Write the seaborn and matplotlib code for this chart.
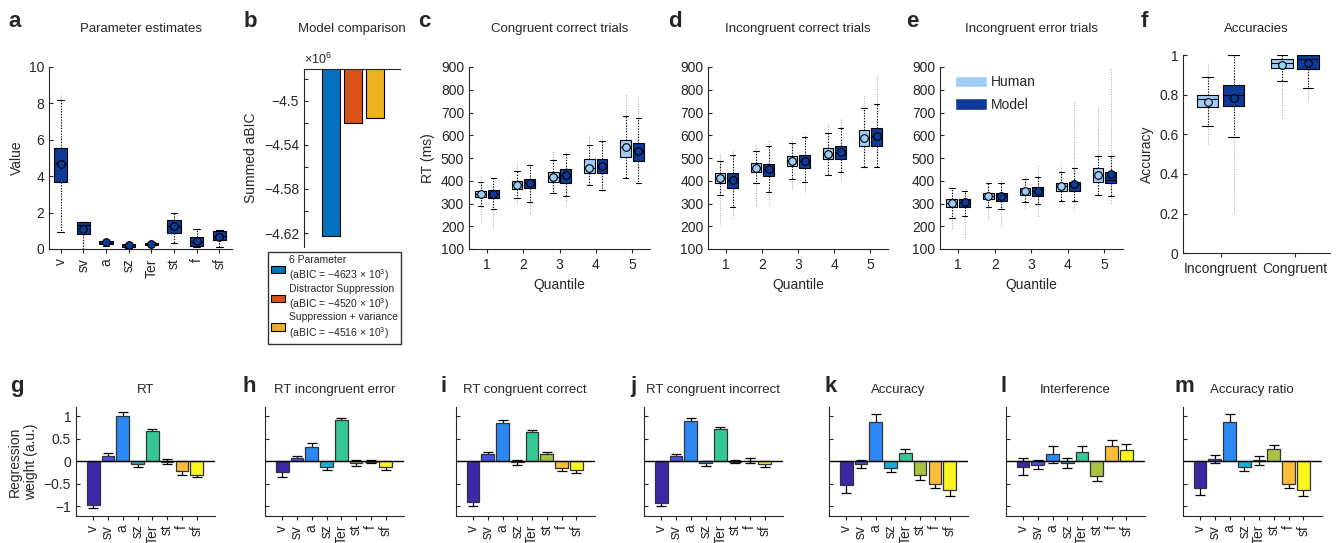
import numpy as np
import pandas as pd
import matplotlib.pyplot as plt
from matplotlib.patches import Patch
from matplotlib.ticker import FuncFormatter
import seaborn as sns

# ---------------- data ----------------
params = ['v', 'sv', 'a', 'sz', 'Ter', 'st', 'f', 'sf']

# a: parameter estimates, box summaries per parameter
a_flo = [0.95, 0.02, 0.15, 0.05, 0.20, 0.33, 0.10, 0.10]
a_wlo = [0.95, 0.02, 0.15, 0.05, 0.20, 0.33, 0.10, 0.10]
a_q1 = [3.69, 0.82, 0.27, 0.09, 0.24, 0.88, 0.18, 0.51]
a_med = [4.71, 1.33, 0.35, 0.20, 0.30, 1.25, 0.40, 0.72]
a_q3 = [5.53, 1.48, 0.46, 0.29, 0.35, 1.61, 0.64, 0.97]
a_whi = [8.21, 1.51, 0.50, 0.30, 0.40, 2.00, 1.09, 1.02]
a_fhi = [8.54, 1.51, 0.50, 0.30, 0.40, 2.00, 1.09, 1.02]
a_mean = [4.68, 1.09, 0.36, 0.20, 0.30, 1.25, 0.43, 0.68]

# b: model comparison, summed aBIC in units of 10^3
models = ['6 Parameter', 'Distractor Suppression', 'Suppression + variance']
abic_k = [-4623, -4520, -4516]

# c-e: RT quantiles (ms); every list is [Human, Model], one value per quantile
sources = ['Human', 'Model']
quantiles = ['1', '2', '3', '4', '5']

cc_flo = [[215, 295, 340, 380, 410], [190, 250, 295, 350, 390]]
cc_wlo = [[288, 322, 348, 380, 411], [275, 307, 331, 360, 392]]
cc_q1 = [[328, 364, 396, 433, 506], [322, 367, 392, 433, 485]]
cc_med = [[342, 382, 415, 458, 548], [342, 389, 425, 465, 532]]
cc_q3 = [[355, 398, 440, 496, 579], [360, 409, 450, 494, 567]]
cc_whi = [[395, 443, 493, 555, 683], [411, 469, 519, 575, 678]]
cc_fhi = [[420, 485, 530, 605, 780], [415, 480, 525, 595, 775]]
cc_mean = [[342, 382, 415, 458, 548], [342, 389, 425, 465, 532]]

ic_flo = [[205, 285, 360, 420, 460], [235, 300, 340, 400, 460]]
ic_wlo = [[338, 390, 407, 425, 462], [284, 351, 396, 437, 462]]
ic_q1 = [[392, 437, 464, 494, 553], [370, 423, 456, 494, 553]]
ic_med = [[411, 458, 485, 519, 590], [404, 450, 485, 525, 595]]
ic_q3 = [[433, 477, 509, 542, 625], [434, 475, 515, 554, 630]]
ic_whi = [[488, 532, 567, 611, 720], [512, 551, 592, 633, 739]]
ic_fhi = [[520, 555, 595, 650, 780], [540, 580, 615, 670, 860]]
ic_mean = [[411, 458, 485, 519, 590], [404, 450, 485, 525, 595]]

ie_flo = [[185, 230, 275, 310, 340], [145, 195, 240, 270, 300]]
ie_wlo = [[236, 284, 307, 313, 338], [243, 275, 296, 310, 331]]
ie_q1 = [[285, 319, 338, 355, 393], [285, 313, 335, 354, 390]]
ie_med = [[303, 332, 354, 377, 425], [306, 332, 357, 385, 404]]
ie_q3 = [[319, 345, 370, 392, 458], [319, 347, 371, 396, 437]]
ie_whi = [[367, 389, 408, 440, 510], [357, 389, 418, 458, 510]]
ie_fhi = [[375, 405, 430, 470, 730], [365, 405, 475, 750, 895]]
ie_mean = [[303, 332, 354, 377, 425], [306, 332, 357, 385, 428]]

# f: accuracies
conditions = ['Incongruent', 'Congruent']
acc_flo = [[0.551, 0.68], [0.20, 0.77]]
acc_wlo = [[0.642, 0.871], [0.588, 0.832]]
acc_q1 = [[0.736, 0.933], [0.743, 0.929]]
acc_med = [[0.776, 0.961], [0.798, 0.978]]
acc_q3 = [[0.797, 0.978], [0.847, 0.998]]
acc_whi = [[0.887, 1.0], [1.0, 1.0]]
acc_fhi = [[0.966, 1.0], [1.0, 1.0]]
acc_mean = [[0.765, 0.95], [0.782, 0.96]]

# g-m: regression weights and their errors, one value per parameter
reg_titles = ['RT', 'RT incongruent error', 'RT congruent correct',
              'RT congruent incorrect', 'Accuracy', 'Interference', 'Accuracy ratio']
reg_letters = ['g', 'h', 'i', 'j', 'k', 'l', 'm']
reg_weights = [
    [-0.98, 0.11, 1.00, -0.07, 0.67, -0.01, -0.23, -0.31],
    [-0.25, 0.07, 0.32, -0.13, 0.91, -0.04, -0.01, -0.13],
    [-0.91, 0.15, 0.84, -0.03, 0.64, 0.15, -0.16, -0.20],
    [-0.93, 0.11, 0.88, -0.05, 0.72, -0.01, 0.01, -0.07],
    [-0.54, -0.07, 0.86, -0.15, 0.17, -0.31, -0.50, -0.65],
    [-0.12, -0.08, 0.15, -0.05, 0.21, -0.33, 0.33, 0.24],
    [-0.60, 0.05, 0.86, -0.13, 0.015, 0.26, -0.50, -0.65],
]
reg_errors = [
    [0.07, 0.06, 0.08, 0.05, 0.05, 0.055, 0.07, 0.05],
    [0.10, 0.045, 0.09, 0.06, 0.05, 0.06, 0.04, 0.07],
    [0.08, 0.05, 0.07, 0.045, 0.04, 0.05, 0.05, 0.07],
    [0.07, 0.04, 0.07, 0.05, 0.04, 0.04, 0.05, 0.06],
    [0.16, 0.09, 0.18, 0.09, 0.09, 0.10, 0.10, 0.13],
    [0.19, 0.10, 0.19, 0.11, 0.12, 0.11, 0.13, 0.15],
    [0.16, 0.09, 0.18, 0.08, 0.10, 0.09, 0.10, 0.13],
]

# ---------------- style ----------------
human_c = '#9fcdf8'
model_c = '#0d3a96'
model_colors = ['#0072bd', '#d95319', '#edb120']
param_colors = ['#3d26a8', '#4551ea', '#2b88f5', '#17b0d8',
                '#35c896', '#a8c340', '#fdbd3c', '#f8f61a']

sns.set_style('ticks')
plt.rcParams['font.family'] = ['Liberation Sans', 'DejaVu Sans']
plt.rcParams['mathtext.fontset'] = 'custom'
plt.rcParams['mathtext.rm'] = 'Liberation Sans'
plt.rcParams['mathtext.default'] = 'regular'
plt.rcParams['axes.linewidth'] = 0.8
plt.rcParams['font.size'] = 10
plt.rcParams['xtick.labelsize'] = 10
plt.rcParams['ytick.labelsize'] = 10

W, H = 1338, 543
fig = plt.figure(figsize=(W / 100, H / 100), dpi=100)


def rect(x0, y0, x1, y1):
    return [x0 / W, 1 - y1 / H, (x1 - x0) / W, (y1 - y0) / H]


def minus_fmt(x, pos):
    return f'{x:g}'.replace('-', '\u2212')


def frames(cats, srcs, flo, wlo, q1, med, q3, whi, fhi, mean):
    main, fl, mn = [], [], []
    for s, src in enumerate(srcs):
        for i, c in enumerate(cats):
            main += [(c, src, v) for v in (wlo[s][i], q1[s][i], med[s][i], q3[s][i], whi[s][i])]
            fl += [(c, src, v) for v in (flo[s][i], med[s][i], med[s][i], med[s][i], fhi[s][i])]
            mn.append((c, src, mean[s][i]))
    cols = ['cat', 'src', 'val']
    return pd.DataFrame(main, columns=cols), pd.DataFrame(fl, columns=cols), pd.DataFrame(mn, columns=cols)


def draw_boxes(ax, cats, srcs, palette, stats, width, gap, msize):
    main, fl, mn = frames(cats, srcs, *stats)
    kw = dict(x='cat', y='val', hue='src', order=cats, hue_order=srcs, palette=palette)
    # faint dotted tails for the outlying trials
    sns.boxplot(data=fl, **kw, width=width, gap=gap, whis=(0, 100), showfliers=False,
                saturation=1, linecolor='#b5b5b5', linewidth=0.8,
                boxprops={'visible': False}, medianprops={'visible': False},
                capprops={'visible': False}, whiskerprops={'linestyle': (0, (1, 1.2))},
                legend=False, ax=ax)
    sns.boxplot(data=main, **kw, width=width, gap=gap, whis=(0, 100), showfliers=False,
                saturation=1, linecolor='black', linewidth=0.8,
                whiskerprops={'linestyle': (0, (1, 1.5))}, legend=False, ax=ax)
    sns.pointplot(data=mn, **kw, dodge=(width / 2 if len(srcs) > 1 else False),
                  linestyle='none', marker='o', markersize=msize,
                  markeredgecolor='black', markeredgewidth=0.8,
                  errorbar=None, legend=False, zorder=6, ax=ax)
    ax.set_xlabel('')
    ax.set_ylabel('')
    sns.despine(ax=ax)
    ax.tick_params(axis='y', direction='in', length=3, width=0.8)
    ax.tick_params(axis='x', direction='out', length=3, width=0.8)


def letter(x, y, s):
    fig.text(x / W, 1 - y / H, s, fontsize=16, fontweight='bold', ha='left', va='baseline')


# ---------------- a ----------------
ax_a = fig.add_axes(rect(49.3, 67, 232, 249))
draw_boxes(ax_a, params, ['Model'], {'Model': model_c},
           ([a_flo], [a_wlo], [a_q1], [a_med], [a_q3], [a_whi], [a_fhi], [a_mean]),
           0.6, 0, 5.5)
ax_a.set_xlim(-0.5, 7.56)
ax_a.set_ylim(0, 10)
ax_a.set_yticks([0, 2, 4, 6, 8, 10])
ax_a.tick_params(axis='x', labelrotation=90)
ax_a.set_ylabel('Value')
ax_a.set_title('Parameter estimates', fontsize=9.5, pad=25)
letter(8, 27, 'a')

# ---------------- b ----------------
ax_b = fig.add_axes(rect(304, 69, 400, 247))
sns.barplot(x=models, y=np.array(abic_k) / 1000, hue=models, palette=model_colors,
            width=0.78, saturation=1, edgecolor='black', linewidth=0.8,
            legend=False, ax=ax_b)
ax_b.set_xlim(-1.23, 3.14)
ax_b.set_ylim(-4.6327, -4.4712)
ax_b.set_yticks([-4.62, -4.58, -4.54, -4.5])
ax_b.set_yticks([-4.6, -4.56, -4.52, -4.48], minor=True)
ax_b.yaxis.set_major_formatter(FuncFormatter(minus_fmt))
ax_b.tick_params(axis='y', which='both', direction='in', length=3, width=0.8)
ax_b.set_xticks([])
for side in ['bottom', 'right']:
    ax_b.spines[side].set_visible(False)
ax_b.set_ylabel('Summed aBIC')
ax_b.set_title('Model comparison', fontsize=9.5, pad=26.5)
ax_b.text(0, 1.01, r'$\times10^{6}$', transform=ax_b.transAxes, fontsize=9,
          ha='left', va='bottom')
b_handles = [Patch(facecolor=c, edgecolor='black', linewidth=0.8) for c in model_colors]
b_labels = [f'{m}\n(aBIC = \u2212{abs(v)} \u00d7 10$^3$)' for m, v in zip(models, abic_k)]
leg_b = fig.legend(b_handles, b_labels, loc='upper left',
                   bbox_to_anchor=(268 / W, 1 - 252 / H),
                   frameon=True, fancybox=False, edgecolor='black', fontsize=7.5,
                   handlelength=1.3, handleheight=0.7, handletextpad=0.4,
                   borderpad=0.3, labelspacing=0.05, borderaxespad=0)
for t in leg_b.get_texts():
    t.set_multialignment('left')
letter(244, 27, 'b')

# ---------------- c, d, e ----------------
rt_panels = [
    ('Congruent correct trials', 'c', (469, 650), 418,
     (cc_flo, cc_wlo, cc_q1, cc_med, cc_q3, cc_whi, cc_fhi, cc_mean)),
    ('Incongruent correct trials', 'd', (708.3, 888.3), 668,
     (ic_flo, ic_wlo, ic_q1, ic_med, ic_q3, ic_whi, ic_fhi, ic_mean)),
    ('Incongruent error trials', 'e', (940, 1122.7), 906,
     (ie_flo, ie_wlo, ie_q1, ie_med, ie_q3, ie_whi, ie_fhi, ie_mean)),
]
pal = {'Human': human_c, 'Model': model_c}
for title, lt, (x0, x1), lx, stats in rt_panels:
    ax = fig.add_axes(rect(x0, 67, x1, 249))
    draw_boxes(ax, quantiles, sources, pal, stats, 0.7, 0.15, 5.5)
    ax.set_xlim(-0.5, 4.5)
    ax.set_ylim(100, 900)
    ax.set_yticks(range(100, 901, 100))
    ax.set_xlabel('Quantile')
    ax.set_title(title, fontsize=9.5, pad=25)
    if lt == 'c':
        ax.set_ylabel('RT (ms)')
    if lt == 'e':
        ax.legend([Patch(facecolor=human_c), Patch(facecolor=model_c)], sources,
                  loc='upper left', bbox_to_anchor=(0.05, 0.985), frameon=False,
                  fontsize=10, handlelength=2.3, handleheight=0.9,
                  handletextpad=0.3, labelspacing=0.6, borderaxespad=0)
    letter(lx, 27, lt)

# ---------------- f ----------------
ax_f = fig.add_axes(rect(1183.3, 55, 1330, 253.3))
draw_boxes(ax_f, conditions, sources, pal,
           (acc_flo, acc_wlo, acc_q1, acc_med, acc_q3, acc_whi, acc_fhi, acc_mean),
           0.7, 0.17, 5.5)
ax_f.set_xlim(-0.5, 1.47)
ax_f.set_ylim(0, 1)
ax_f.set_yticks([0, 0.2, 0.4, 0.6, 0.8, 1])
ax_f.yaxis.set_major_formatter(FuncFormatter(minus_fmt))
ax_f.set_ylabel('Accuracy')
ax_f.set_title('Accuracies', fontsize=9.5, pad=16.5)
letter(1141, 27, 'f')

# ---------------- g-m ----------------
reg_lefts = [76, 265, 455.7, 644, 829, 1005.7, 1182.7]
reg_letter_x = [10, 243, 441, 630, 825, 1000, 1175]
for k in range(7):
    ax = fig.add_axes(rect(reg_lefts[k], 407, reg_lefts[k] + 139, 515.7))
    sns.barplot(x=params, y=reg_weights[k], hue=params, palette=param_colors,
                width=0.86, saturation=1, edgecolor='#333333', linewidth=0.9,
                legend=False, zorder=3, ax=ax)
    ax.errorbar(np.arange(len(params)), reg_weights[k], yerr=reg_errors[k], fmt='none',
                ecolor='black', elinewidth=0.9, capsize=3.5, capthick=0.9, zorder=2)
    ax.axhline(0, color='black', linewidth=1, zorder=4)
    ax.set_xlim(-1.17, 8.24)
    ax.set_ylim(-1.21, 1.2)
    ax.set_yticks([-1, -0.5, 0, 0.5, 1])
    if k == 0:
        ax.yaxis.set_major_formatter(FuncFormatter(minus_fmt))
        ax.set_ylabel('Regression\nweight (a.u.)')
    else:
        ax.set_yticklabels([])
    sns.despine(ax=ax)
    ax.tick_params(axis='y', direction='in', length=3, width=0.8)
    ax.tick_params(axis='x', direction='out', length=3, width=0.8, labelrotation=90)
    ax.set_title(reg_titles[k], fontsize=9.5, pad=10)
    letter(reg_letter_x[k], 392, reg_letters[k])

fig.savefig('out.png', dpi=100)
